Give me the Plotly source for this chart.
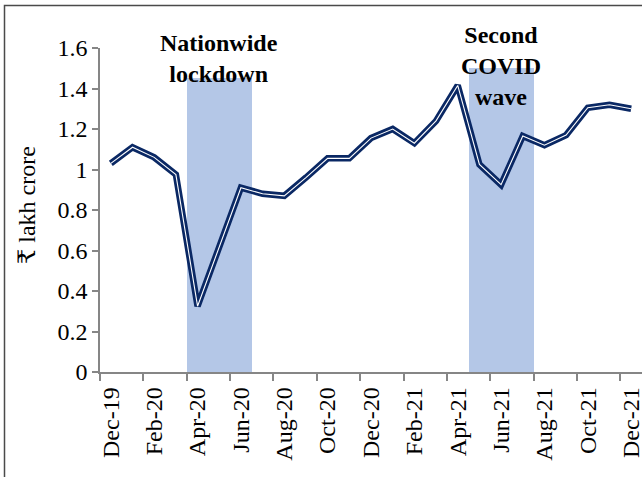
import plotly.graph_objects as go

months = ["Dec-19", "Jan-20", "Feb-20", "Mar-20", "Apr-20", "May-20", "Jun-20", "Jul-20",
          "Aug-20", "Sep-20", "Oct-20", "Nov-20", "Dec-20", "Jan-21", "Feb-21", "Mar-21",
          "Apr-21", "May-21", "Jun-21", "Jul-21", "Aug-21", "Sep-21", "Oct-21", "Nov-21", "Dec-21"]
values = [1.03, 1.11, 1.06, 0.975, 0.325, 0.62, 0.91, 0.88, 0.87, 0.96, 1.055, 1.055, 1.155,
          1.20, 1.13, 1.24, 1.415, 1.025, 0.925, 1.165, 1.12, 1.17, 1.305, 1.32, 1.30]

lockdown_months = ["Apr-20", "May-20", "Jun-20"]
lockdown_height = [1.45, 1.45, 1.45]
wave_months = ["May-21", "Jun-21", "Jul-21"]
wave_height = [1.5, 1.5, 1.5]

tick_labels = months[::2]

W, H = 642, 477
L, R, T, B = 100, 0, 48, 105
pw, ph = W - L - R, H - T - B

idx = {m: i for i, m in enumerate(months)}
xs = list(range(len(months)))

fig = go.Figure()
fig.add_trace(go.Bar(x=[idx[m] for m in lockdown_months], y=lockdown_height, width=1,
                     marker=dict(color="#B4C7E7", line=dict(width=0)), hoverinfo="skip"))
fig.add_trace(go.Bar(x=[idx[m] for m in wave_months], y=wave_height, width=1,
                     marker=dict(color="#B4C7E7", line=dict(width=0)), hoverinfo="skip"))
fig.add_trace(go.Scatter(x=xs, y=values, mode="lines",
                         line=dict(color="#0a2864", width=6.5), hoverinfo="skip"))
fig.add_trace(go.Scatter(x=xs, y=values, mode="lines",
                         line=dict(color="white", width=1.1), hoverinfo="skip"))

font_family = "Liberation Serif, Times New Roman, DejaVu Serif, serif"
FS = 24

def px_x(p):
    return (p - L) / pw

def px_y(p):
    return (H - B - p) / ph

fig.update_layout(
    width=W, height=H,
    margin=dict(l=L, r=R, t=T, b=B, autoexpand=False),
    paper_bgcolor="white", plot_bgcolor="white",
    showlegend=False, barmode="overlay", bargap=0,
    font=dict(family=font_family, size=FS, color="black"),
    xaxis=dict(range=[-0.5, len(months) - 0.5], tickvals=xs[::2], ticktext=tick_labels,
               tickangle=-90, ticks="", showline=True, linecolor="#868686", linewidth=1.5,
               showgrid=False, zeroline=False, ticklabelstandoff=4, automargin=False,
               ticklabeloverflow="allow",
               tickfont=dict(family=font_family, size=FS, color="black"),
               minor=dict(tickvals=[i - 0.5 for i in xs[::2]], ticks="outside",
                          ticklen=7, tickwidth=1.5, tickcolor="#868686", showgrid=False)),
    yaxis=dict(range=[0, 1.6], dtick=0.2, tick0=0, ticks="outside", ticklen=6,
               tickwidth=1.5, tickcolor="#868686", showline=True, linecolor="#868686",
               linewidth=1.5, showgrid=False, zeroline=False, automargin=False,
               tickfont=dict(family=font_family, size=FS, color="black")),
    annotations=[
        dict(text="₹ lakh crore", xref="paper", yref="paper", x=px_x(27), y=px_y(205),
             xanchor="center", yanchor="middle", textangle=-90, showarrow=False,
             font=dict(family=font_family, size=FS, color="black")),
        dict(text="<b>Nationwide<br>lockdown</b>", xref="x", yref="paper",
             x=idx["May-20"], y=px_y(58), xanchor="center", yanchor="middle",
             showarrow=False, font=dict(family=font_family, size=FS, color="black")),
        dict(text="<b>Second<br>COVID<br>wave</b>", xref="x", yref="paper",
             x=idx["Jun-21"], y=px_y(66), xanchor="center", yanchor="middle",
             showarrow=False, font=dict(family=font_family, size=FS, color="black")),
    ],
    shapes=[
        dict(type="rect", xref="paper", yref="paper", x0=px_x(4.5), x1=px_x(W + 10),
             y0=px_y(H + 10), y1=px_y(5.5), line=dict(color="#4a4a4a", width=1.5),
             fillcolor="rgba(0,0,0,0)", layer="above"),
    ],
)

fig.write_html("out.html", config={"displayModeBar": False},
               post_script="document.body.style.margin='0px';")
